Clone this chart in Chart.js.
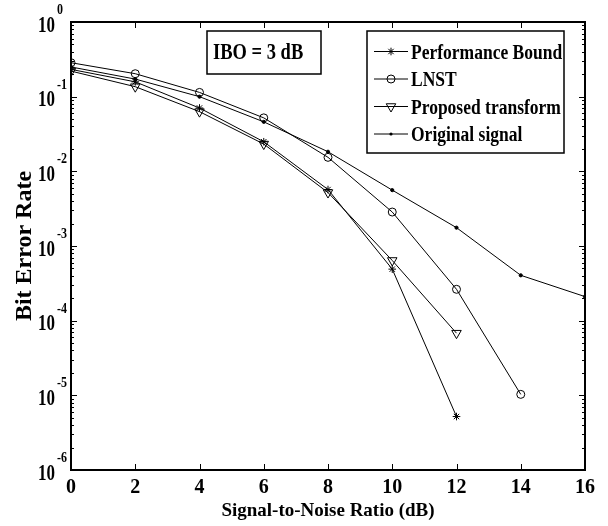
<!DOCTYPE html>
<html>
<head>
<meta charset="utf-8">
<script src="https://cdn.jsdelivr.net/npm/chart.js@4/dist/chart.umd.min.js"></script>
<style>
  html, body { margin: 0; padding: 0; background: #fff; }
  #wrap { width: 608px; height: 526px; }
</style>
</head>
<body>
<div id="wrap"><canvas id="c" width="608" height="526"></canvas></div>
<script>
// ---- data ----
const snr = [0, 2, 4, 6, 8, 10, 12, 14, 16];
const performanceBound = [0.232, 0.158, 0.0705, 0.0249, 0.0057, 0.00049, 0.0000052];
const lnst = [0.285, 0.203, 0.114, 0.052, 0.0154, 0.00285, 0.000263, 0.0000103];
const proposedTransform = [0.22, 0.136, 0.063, 0.0232, 0.0052, 0.00064, 0.000068];
const originalSignal = [0.25, 0.172, 0.1, 0.046, 0.0183, 0.0056, 0.00176, 0.000405, 0.00021];
const seriesLabels = ['Performance Bound', 'LNST', 'Proposed transform', 'Original signal'];
const xTickValues = [0, 2, 4, 6, 8, 10, 12, 14, 16];
const yTickValues = [1, 1e-1, 1e-2, 1e-3, 1e-4, 1e-5, 1e-6];
const yTickBase = '10';
const yTickExponents = ['0', '-1', '-2', '-3', '-4', '-5', '-6'];
const annotationText = 'IBO = 3 dB';
const xTitle = 'Signal-to-Noise Ratio (dB)';
const yTitle = 'Bit Error Rate';

const FAM = "'Liberation Serif', 'Times New Roman', serif";
const pts = (vals) => vals.map((v, i) => ({ x: snr[i], y: v }));

const styles = [
  { pointStyle: 'star', radius: 3.8, rotation: 0, fill: false },
  { pointStyle: 'circle', radius: 4, rotation: 0, fill: false },
  { pointStyle: 'triangle', radius: 5.5, rotation: 180, fill: false },
  { pointStyle: 'circle', radius: 1.6, rotation: 0, fill: true }
];
const allData = [performanceBound, lnst, proposedTransform, originalSignal];

const datasets = allData.map((vals, i) => ({
  label: seriesLabels[i],
  data: pts(vals),
  borderColor: '#000',
  borderWidth: 1,
  backgroundColor: styles[i].fill ? '#000' : 'rgba(0,0,0,0)',
  pointStyle: styles[i].pointStyle,
  pointRadius: styles[i].radius,
  pointRotation: styles[i].rotation,
  pointBorderColor: '#000',
  pointBackgroundColor: styles[i].fill ? '#000' : 'rgba(0,0,0,0)',
  pointBorderWidth: 1,
  tension: 0,
  fill: false
}));

function sText(ctx, text, x, y, size, sy, align) {
  ctx.save();
  ctx.font = 'bold ' + size + 'px ' + FAM;
  ctx.textAlign = align || 'left';
  ctx.textBaseline = 'alphabetic';
  ctx.fillStyle = '#000';
  ctx.translate(x, y);
  ctx.scale(1, sy);
  ctx.fillText(text, 0, 0);
  ctx.restore();
}

function marker(ctx, st, x, y) {
  const r = st.radius;
  ctx.save();
  ctx.strokeStyle = '#000';
  ctx.fillStyle = '#000';
  ctx.lineWidth = 1;
  ctx.beginPath();
  if (st.pointStyle === 'circle') {
    ctx.arc(x, y, r, 0, Math.PI * 2);
    if (st.fill) ctx.fill(); else ctx.stroke();
  } else if (st.pointStyle === 'triangle') {
    for (let k = 0; k < 3; k++) {
      const a = Math.PI + k * 2 * Math.PI / 3;
      const px = x + Math.sin(a) * r, py = y - Math.cos(a) * r;
      if (k === 0) ctx.moveTo(px, py); else ctx.lineTo(px, py);
    }
    ctx.closePath();
    ctx.stroke();
  } else if (st.pointStyle === 'star') {
    for (let k = 0; k < 4; k++) {
      const a = k * Math.PI / 4;
      ctx.moveTo(x + Math.sin(a) * r, y - Math.cos(a) * r);
      ctx.lineTo(x - Math.sin(a) * r, y + Math.cos(a) * r);
    }
    ctx.stroke();
  }
  ctx.restore();
}

const decor = {
  id: 'decor',
  afterDraw(chart) {
    const ctx = chart.ctx;
    const a = chart.chartArea;
    const xs = chart.scales.x, ys = chart.scales.y;
    ctx.save();
    ctx.strokeStyle = '#000';
    // ticks
    ctx.lineWidth = 1;
    ctx.beginPath();
    xTickValues.forEach(v => {
      const px = Math.round(xs.getPixelForValue(v)) + 0.5;
      ctx.moveTo(px, a.bottom); ctx.lineTo(px, a.bottom - 6);
      ctx.moveTo(px, a.top); ctx.lineTo(px, a.top + 6);
    });
    for (let e = 0; e >= -6; e--) {
      const base = Math.pow(10, e);
      const py = Math.round(ys.getPixelForValue(base)) + 0.5;
      ctx.moveTo(a.left, py); ctx.lineTo(a.left + 6, py);
      ctx.moveTo(a.right, py); ctx.lineTo(a.right - 6, py);
      if (e > -6) {
        for (let m = 2; m <= 9; m++) {
          const v = m * Math.pow(10, e - 1);
          const q = Math.round(ys.getPixelForValue(v)) + 0.5;
          ctx.moveTo(a.left, q); ctx.lineTo(a.left + 3, q);
          ctx.moveTo(a.right, q); ctx.lineTo(a.right - 3, q);
        }
      }
    }
    ctx.stroke();
    // frame
    ctx.lineWidth = 2;
    ctx.strokeRect(a.left, a.top, a.right - a.left, a.bottom - a.top);
    ctx.restore();

    // y tick labels
    yTickValues.forEach((v, i) => {
      const py = ys.getPixelForValue(v);
      sText(ctx, yTickBase, a.left - 16, py + 9.5, 17, 1.3, 'right');
      sText(ctx, yTickExponents[i], a.left - 14, py - 8, 12, 1.15, 'left');
    });

    // annotation box
    ctx.save();
    ctx.fillStyle = '#fff';
    ctx.fillRect(207, 31, 114, 43);
    ctx.strokeStyle = '#000';
    ctx.lineWidth = 1.5;
    ctx.strokeRect(207, 31, 114, 43);
    ctx.restore();
    sText(ctx, annotationText, 213, 59, 18.5, 1.3, 'left');

    // legend
    ctx.save();
    ctx.fillStyle = '#fff';
    ctx.fillRect(367, 31, 197, 122);
    ctx.strokeStyle = '#000';
    ctx.lineWidth = 1.5;
    ctx.strokeRect(367, 31, 197, 122);
    ctx.restore();
    const rows = [51.5, 79, 106.5, 134];
    chart.data.datasets.forEach((ds, i) => {
      const y = rows[i];
      ctx.save();
      ctx.strokeStyle = '#000';
      ctx.lineWidth = 1;
      ctx.beginPath();
      ctx.moveTo(374, y); ctx.lineTo(408, y);
      ctx.stroke();
      ctx.restore();
      marker(ctx, styles[i], 391, y);
      sText(ctx, ds.label, 411, y + 7, 17.5, 1.25, 'left');
    });
  }
};

new Chart(document.getElementById('c'), {
  type: 'line',
  data: { datasets },
  plugins: [decor],
  options: {
    responsive: false,
    animation: false,
    devicePixelRatio: 1,
    layout: { padding: { top: 22, right: 23, left: 0, bottom: 0 } },
    plugins: { legend: { display: false }, tooltip: { enabled: false } },
    scales: {
      x: {
        type: 'linear',
        min: 0, max: 16,
        position: 'bottom',
        afterFit: (s) => { s.height = 56; },
        afterBuildTicks: (s) => { s.ticks = xTickValues.map(v => ({ value: v })); },
        ticks: {
          color: '#000',
          padding: 6,
          maxRotation: 0,
          font: { family: FAM, size: 20, weight: 'bold' },
          callback: (v) => String(v)
        },
        grid: { display: false, drawTicks: false },
        border: { display: false },
        title: {
          display: true,
          text: xTitle,
          color: '#000',
          padding: { top: 0, bottom: 4 },
          font: { family: FAM, size: 19, weight: 'bold' }
        }
      },
      y: {
        type: 'logarithmic',
        min: 1e-6, max: 1,
        afterFit: (s) => { s.width = 71; },
        ticks: { display: false },
        grid: { display: false, drawTicks: false },
        border: { display: false },
        title: {
          display: true,
          text: yTitle,
          color: '#000',
          padding: { top: 10, bottom: 0 },
          font: { family: FAM, size: 24, weight: 'bold' }
        }
      }
    }
  }
});
</script>
</body>
</html>
